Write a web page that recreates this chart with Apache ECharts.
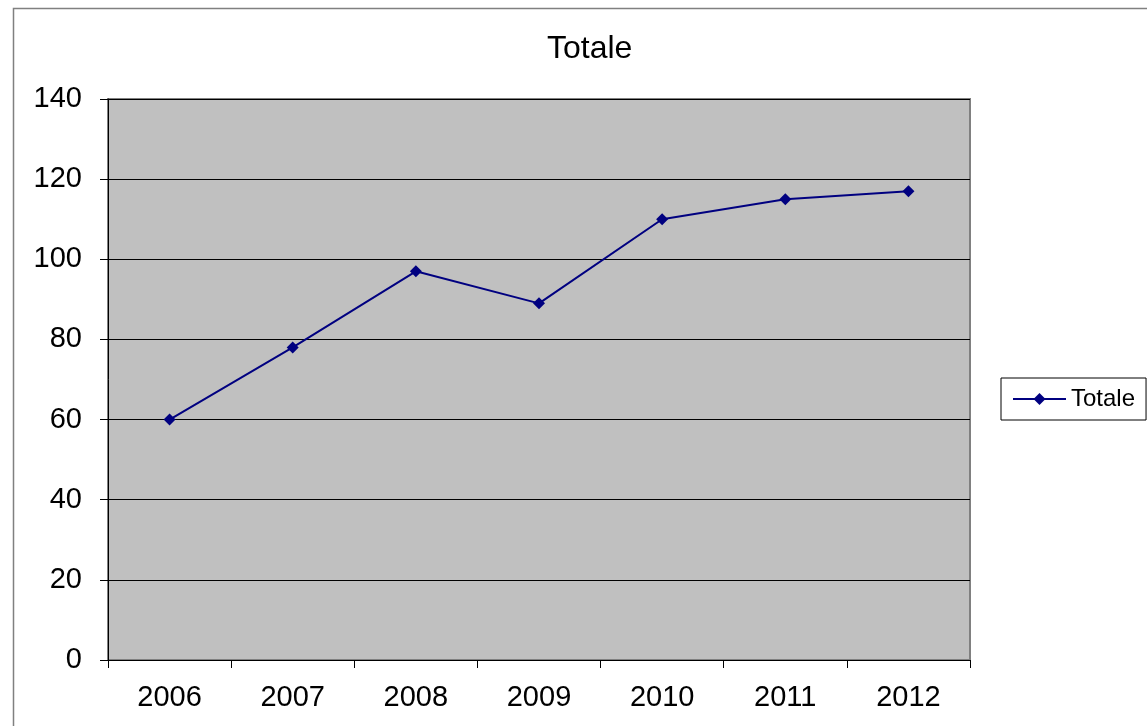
<!DOCTYPE html>
<html><head><meta charset="utf-8">
<script src="https://cdn.jsdelivr.net/npm/echarts@6/dist/echarts.min.js"></script>
<style>html,body{margin:0;padding:0;background:#fff}#c{width:1147px;height:726px}</style>
</head><body><div id="c"></div>
<script>
const categories = ['2006','2007','2008','2009','2010','2011','2012'];
const totale = [60, 78, 97, 89, 110, 115, 117];
const yTicks = [0, 20, 40, 60, 80, 100, 120, 140];

const chart = echarts.init(document.getElementById('c'));
const F = '"Liberation Sans", Arial, sans-serif';
chart.setOption({
  animation: false,
  backgroundColor: '#fff',
  title: { text: 'Totale', left: 542, top: 28,
    textStyle: { fontFamily: F, fontSize: 32, fontWeight: 'normal', color: '#000' } },
  graphic: [
    { type: 'rect', shape: { x: 13.5, y: 8.5, width: 1300, height: 900 }, style: { fill: 'none', stroke: '#808080', lineWidth: 1.5 }, silent: true, z: -1 }
  ],
  legend: {
    left: 1001, top: 378, orient: 'vertical',
    itemWidth: 53, itemHeight: 15, itemGap: 6,
    padding: [9, 11, 9, 11],
    borderColor: '#000', borderWidth: 1,
    backgroundColor: '#fff',
    textStyle: { fontFamily: F, fontSize: 24, color: '#000' },
    data: ['Totale']
  },
  grid: { left: 108, top: 99, right: 177, bottom: 66, show: true, backgroundColor: '#C0C0C0', borderColor: '#808080', borderWidth: 2 },
  xAxis: {
    type: 'category', data: categories, boundaryGap: true,
    axisLine: { lineStyle: { color: '#000', width: 1 } },
    axisTick: { show: true, length: 8, lineStyle: { color: '#000' } },
    axisLabel: { fontFamily: F, fontSize: 29, color: '#000', margin: 23 }
  },
  yAxis: {
    type: 'value', min: 0, max: 140, interval: 20,
    axisLine: { show: true, lineStyle: { color: '#000', width: 1 } },
    axisTick: { show: true, length: 8, lineStyle: { color: '#000' } },
    axisLabel: { fontFamily: F, fontSize: 29, color: '#000', margin: 26,
      formatter: v => yTicks.includes(v) ? String(v) : '' },
    splitLine: { show: true, lineStyle: { color: '#000', width: 1 } }
  },
  series: [{
    name: 'Totale', type: 'line', data: totale,
    symbol: 'diamond', symbolSize: 12,
    lineStyle: { color: '#000080', width: 2 },
    itemStyle: { color: '#000080' }
  }]
});
</script></body></html>
